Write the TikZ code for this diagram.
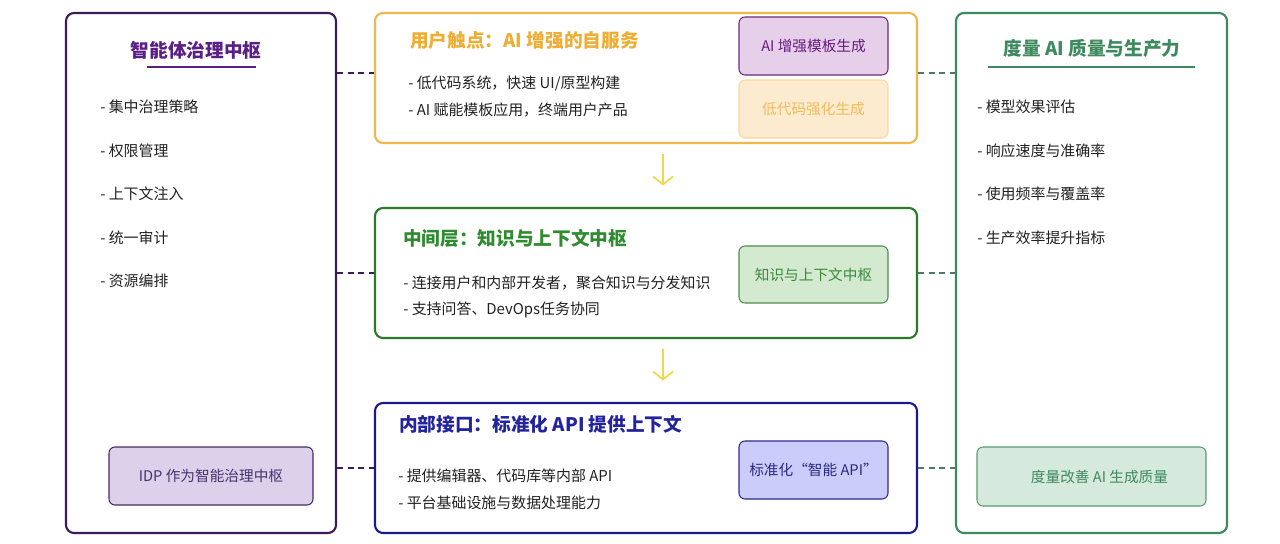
\documentclass[tikz,border=0pt]{standalone}
\usepackage{fontspec}
\setmainfont{Noto Sans CJK SC}
\usetikzlibrary{arrows.meta,calc}
\definecolor{lpurple}{HTML}{3D1A5C}
\definecolor{ltitle}{HTML}{5A1E85}
\definecolor{idpfill}{HTML}{DCD0EA}
\definecolor{idpdraw}{HTML}{4A2A6A}
\definecolor{idptext}{HTML}{4A3070}
\definecolor{orangeb}{HTML}{F0B84A}
\definecolor{oranget}{HTML}{EEAE33}
\definecolor{aifill}{HTML}{E5CFE9}
\definecolor{aidraw}{HTML}{6A2A7E}
\definecolor{aitext}{HTML}{6A1A80}
\definecolor{lcfill}{HTML}{FDEBCF}
\definecolor{lcdraw}{HTML}{F8D9A0}
\definecolor{lctext}{HTML}{EEBC5C}
\definecolor{arrowy}{HTML}{F0D84A}
\definecolor{greenb}{HTML}{2A7A2A}
\definecolor{greent}{HTML}{2E8B2E}
\definecolor{kfill}{HTML}{D4EAD0}
\definecolor{kdraw}{HTML}{4C8C4C}
\definecolor{ktext}{HTML}{3A8A3A}
\definecolor{blueb}{HTML}{1A1A8C}
\definecolor{bluet}{HTML}{2323A0}
\definecolor{apifill}{HTML}{CCCCFA}
\definecolor{apidraw}{HTML}{2A2A90}
\definecolor{apitext}{HTML}{2A2A80}
\definecolor{rgreen}{HTML}{3E8A60}
\definecolor{rtitle}{HTML}{3E8A5E}
\definecolor{mfill}{HTML}{D6E9DD}
\definecolor{mdraw}{HTML}{5B9A72}
\definecolor{rdash}{HTML}{4A7A64}
\definecolor{bodytext}{HTML}{222222}
\tikzset{
  outerbox/.style={rectangle, rounded corners=6pt, line width=1.6pt, inner sep=0pt},
  innerbox/.style={rectangle, rounded corners=4.5pt, line width=0.8pt, inner sep=0pt, font=\fontsize{11pt}{13pt}\selectfont},
  bullet/.style={anchor=west, inner sep=0pt, text=bodytext, font=\fontsize{11.2pt}{13pt}\selectfont},
  ttl/.style={anchor=west, inner sep=0pt, font=\fontsize{14pt}{16pt}\selectfont\bfseries},
  dashline/.style={line width=1.5pt, dash pattern=on 4.5pt off 3.5pt},
  flowarrow/.style={draw=arrowy, line width=1.3pt, -{Straight Barb[length=6pt,width=15pt,line width=1.3pt]}}
}
\begin{document}
\begin{tikzpicture}[x=0.75pt,y=-0.75pt]
\fill[white] (0,0) rectangle (1280,543);
\useasboundingbox (0,0) rectangle (1280,543);

% outer boxes
\node[outerbox, draw=lpurple, minimum width=270*0.75pt, minimum height=520*0.75pt] (L) at (201,273) {};
\node[outerbox, draw=orangeb, minimum width=542*0.75pt, minimum height=130*0.75pt] (T) at (646,78) {};
\node[outerbox, draw=greenb, minimum width=542*0.75pt, minimum height=130*0.75pt] (M) at (646,273) {};
\node[outerbox, draw=blueb, minimum width=542*0.75pt, minimum height=130*0.75pt] (B) at (646,468) {};
\node[outerbox, draw=rgreen, minimum width=271*0.75pt, minimum height=520*0.75pt] (R) at (1091.5,273) {};

% left content
\node[inner sep=0pt, text=ltitle, font=\fontsize{14pt}{16pt}\selectfont\bfseries] (Lt) at (196,50) {智能体治理中枢};
\draw[ltitle, line width=1.8pt] (147,67) -- (256,67);
\node[bullet] (L1) at (100,107) {- 集中治理策略};
\node[bullet] (L2) at (100,151) {- 权限管理};
\node[bullet] (L3) at (100,194) {- 上下文注入};
\node[bullet] (L4) at (100,238) {- 统一审计};
\node[bullet] (L5) at (100,281) {- 资源编排};
\node[innerbox, fill=idpfill, draw=idpdraw, text=idptext, minimum width=204*0.75pt, minimum height=58*0.75pt] (IDP) at (211,476) {IDP 作为智能治理中枢};

% top content
\node[ttl, text=oranget] (Tt) at (410,40) {用户触点：AI 增强的自服务};
\node[bullet] (T1) at (408,84) {- 低代码系统，快速 UI/原型构建};
\node[bullet] (T2) at (408,110) {- AI 赋能模板应用，终端用户产品};
\node[innerbox, fill=aifill, draw=aidraw, text=aitext, minimum width=149*0.75pt, minimum height=58*0.75pt] (AI) at (813.5,46) {AI 增强模板生成};
\node[innerbox, fill=lcfill, draw=lcdraw, text=lctext, minimum width=149*0.75pt, minimum height=58*0.75pt] (LC) at (813.5,109) {低代码强化生成};

% middle content
\node[ttl, text=greent] (Mt) at (403,238) {中间层：知识与上下文中枢};
\node[bullet] (M1) at (403,283) {- 连接用户和内部开发者，聚合知识与分发知识};
\node[bullet] (M2) at (403,310) {- 支持问答、DevOps任务协同};
\node[innerbox, fill=kfill, draw=kdraw, text=ktext, minimum width=149*0.75pt, minimum height=57*0.75pt] (K) at (813.5,274.5) {知识与上下文中枢};

% bottom content
\node[ttl, text=bluet] (Bt) at (399,424) {内部接口：标准化 API 提供上下文};
\node[bullet] (B1) at (398,476) {- 提供编辑器、代码库等内部 API};
\node[bullet] (B2) at (398,503) {- 平台基础设施与数据处理能力};
\node[innerbox, fill=apifill, draw=apidraw, text=apitext, minimum width=149*0.75pt, minimum height=58*0.75pt] (API) at (813.5,470) {标准化“智能 API”};

% right content
\node[inner sep=0pt, text=rtitle, font=\fontsize{14pt}{16pt}\selectfont\bfseries] (Rt) at (1092,48) {度量 AI 质量与生产力};
\draw[rtitle, line width=1.8pt] (988,67) -- (1195,67);
\node[bullet] (R1) at (977,107) {- 模型效果评估};
\node[bullet] (R2) at (977,151) {- 响应速度与准确率};
\node[bullet] (R3) at (977,194) {- 使用频率与覆盖率};
\node[bullet] (R4) at (977,238) {- 生产效率提升指标};
\node[innerbox, fill=mfill, draw=mdraw, text=rtitle, minimum width=229*0.75pt, minimum height=59*0.75pt] (MQ) at (1091.5,476.5) {\hspace{12pt}度量改善 AI 生成质量};

% flow arrows
\draw[flowarrow] ([xshift=12.75pt,yshift=-7.5pt]T.south) -- ([xshift=12.75pt,yshift=16pt]M.north);
\draw[flowarrow] ([xshift=12.75pt,yshift=-7.5pt]M.south) -- ([xshift=12.75pt,yshift=16pt]B.north);

% dashed connectors
\draw[dashline, lpurple] ([yshift=3.75pt]L.east |- T.west) -- ([yshift=3.75pt]T.west);
\draw[dashline, lpurple] (L.east |- M.west) -- (M.west);
\draw[dashline, lpurple] (L.east |- B.west) -- (B.west);
\draw[dashline, rdash] ([yshift=3.75pt]T.east) -- ([yshift=3.75pt]R.west |- T.east);
\draw[dashline, rdash] (M.east) -- (R.west |- M.east);
\draw[dashline, rdash] (B.east) -- (R.west |- B.east);
\end{tikzpicture}
\end{document}
